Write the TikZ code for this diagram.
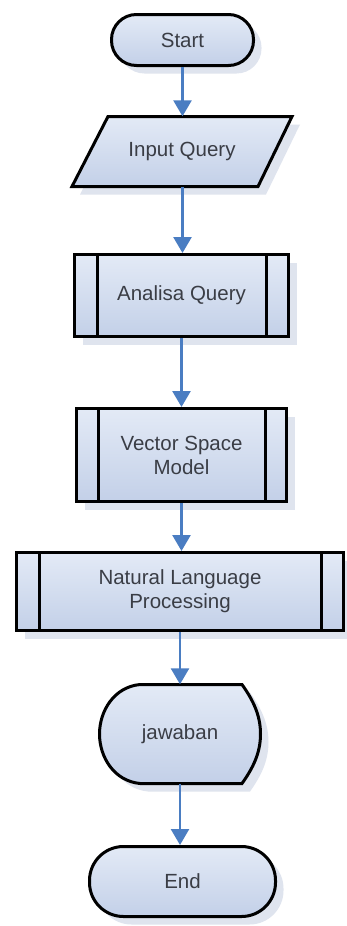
\documentclass[tikz,border=0pt]{standalone}
\usepackage{fontspec}
\setmainfont{Liberation Sans}
\usetikzlibrary{shadows,backgrounds,arrows.meta}

\definecolor{boxtop}{HTML}{E3EAF6}
\definecolor{boxbot}{HTML}{C3D0E8}
\definecolor{shadecol}{HTML}{DFE4EE}
\definecolor{flowcol}{HTML}{4A7DC2}
\definecolor{txtcol}{HTML}{3A3D45}

\tikzset{
  labelfont/.style={text=txtcol, font=\fontsize{20.5}{24}\selectfont, align=center, inner sep=0pt},
  boxbase/.style={labelfont, draw=black, line width=3pt, top color=boxtop, bottom color=boxbot,
    drop shadow={shadow xshift=8pt, shadow yshift=-8pt, fill=shadecol, opacity=1}},
  terminal/.style={boxbase, rectangle, rounded corners=25pt},
  procbox/.style={boxbase, rectangle},
  textonly/.style={labelfont, rectangle},
  outline/.style={draw=black, line width=3pt, top color=boxtop, bottom color=boxbot},
  bar/.style={draw=black, line width=3pt},
  flow/.style={draw=flowcol, line width=2.6pt, -{Triangle[width=18pt,length=16pt]}}
}

\begin{document}
\begin{tikzpicture}[x=1pt,y=-1pt]
  \useasboundingbox (0,0) rectangle (347,926);

  % flow steps
  \node[terminal, minimum width=142pt, minimum height=51pt] (start) at (182.5,40) {Start};
  \node[textonly, minimum width=220pt, minimum height=70pt] (input) at (182,151.5) {Input Query};
  \node[procbox, minimum width=214pt, minimum height=82pt] (analisa) at (181.5,295.5) {Analisa Query};
  \node[procbox, minimum width=210pt, minimum height=93pt] (vsm) at (181.5,455) {Vector Space\\Model};
  \node[procbox, minimum width=327pt, minimum height=78pt] (nlp) at (180,591.5) {Natural Language\\Processing};
  \node[textonly, minimum width=161pt, minimum height=99pt] (jawaban) at (180,734) {jawaban};
  \node[terminal, minimum width=186pt, minimum height=70pt, rounded corners=34pt] (end) at (182.5,881.5) {End};

  % inner bars of the predefined-process boxes
  \foreach \n/\d in {analisa/24, vsm/23, nlp/24}{
    \draw[bar] ([xshift=\d pt]\n.north west) -- ([xshift=\d pt]\n.south west);
    \draw[bar] ([xshift=-\d pt]\n.north east) -- ([xshift=-\d pt]\n.south east);
  }

  % outlines drawn behind the input and output labels
  \def\iopath{(108,116.5) -- (292,116.5) -- (258,186.5) -- (72,186.5) -- cycle}
  \def\displaypath{(140,684.5) -- (242,684.5)
    .. controls (253,700) and (260.5,715) .. (260.5,734)
    .. controls (260.5,753) and (253,768) .. (242,783.5)
    -- (140,783.5)
    .. controls (114,781) and (99.5,757) .. (99.5,734)
    .. controls (99.5,711) and (114,687) .. (140,684.5) -- cycle}
  \begin{pgfonlayer}{background}
    \fill[white] (0,0) rectangle (347,926);
    \fill[shadecol, shift={(8,8)}] \iopath;
    \draw[outline] \iopath;
    \fill[shadecol, shift={(8,8)}] \displaypath;
    \draw[outline] \displaypath;
  \end{pgfonlayer}

  % connectors
  \draw[flow] (start.south) -- (input.north -| start.south);
  \draw[flow] (input.south -| start.south) -- (analisa.north -| start.south);
  \draw[flow] (analisa.south) -- (vsm.north);
  \draw[flow] (vsm.south) -- (nlp.north -| vsm.south);
  \draw[flow] (nlp.south) -- (jawaban.north);
  \draw[flow] (jawaban.south) -- (end.north -| jawaban.south);
\end{tikzpicture}
\end{document}
